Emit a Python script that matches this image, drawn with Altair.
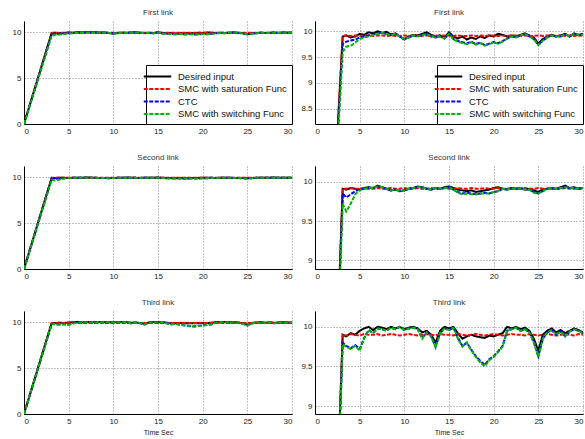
import altair as alt
import pandas as pd

TIME = [0, 3.1,
        3.5, 4.0, 4.5, 5.0, 5.5, 6.0, 6.5, 7.0, 7.5, 8.0,
        8.5, 9.0, 9.5, 10.0, 10.5, 11.0, 11.5, 12.0, 12.5, 13.0,
        13.5, 14.0, 14.5, 15.0, 15.5, 16.0, 16.5, 17.0, 17.5, 18.0,
        18.5, 19.0, 19.5, 20.0, 20.5, 21.0, 21.5, 22.0, 22.5, 23.0,
        23.5, 24.0, 24.5, 25.0, 25.5, 26.0, 26.5, 27.0, 27.5, 28.0,
        28.5, 29.0, 29.5, 30.0]

LINKS = ["First link", "Second link", "Third link"]
SERIES = ["Desired input", "SMC with saturation Func", "CTC", "SMC with switching Func"]
COLORS = ["#000000", "#ff0000", "#0000ff", "#00b400"]
DASHES = [[1, 0], [4, 1.5], [4, 1.5], [4, 1.5]]
WIDTHS = [2, 2, 1, 1]

L1_DESIRED = [0, 9.90,
              9.92, 9.88, 9.90, 9.95, 9.93, 9.98, 9.96, 10.00, 9.97, 9.99,
              9.94, 9.96, 9.90, 9.84, 9.90, 9.93, 9.92, 9.95, 9.98, 9.93,
              9.90, 9.92, 9.88, 9.98, 9.90, 9.86, 9.90, 9.84, 9.88, 9.85,
              9.90, 9.87, 9.92, 9.90, 9.95, 9.93, 9.90, 9.92, 9.90, 9.93,
              9.96, 9.92, 9.88, 9.76, 9.85, 9.90, 9.93, 9.90, 9.92, 9.95,
              9.90, 9.96, 9.93, 9.95]
L1_SAT = [0, 9.91,
          9.92, 9.91, 9.92, 9.91, 9.92, 9.92, 9.91, 9.92, 9.92, 9.91,
          9.92, 9.91, 9.91, 9.92, 9.91, 9.92, 9.92, 9.91, 9.92, 9.91,
          9.92, 9.91, 9.92, 9.92, 9.91, 9.92, 9.91, 9.91, 9.92, 9.91,
          9.92, 9.91, 9.92, 9.92, 9.91, 9.92, 9.91, 9.92, 9.92, 9.91,
          9.92, 9.91, 9.91, 9.92, 9.91, 9.92, 9.92, 9.91, 9.92, 9.91,
          9.92, 9.91, 9.92, 9.92]
L1_CTC = [0, 9.75,
          9.80, 9.82, 9.84, 9.88, 9.90, 9.92, 9.94, 9.96, 9.97, 9.95,
          9.93, 9.95, 9.90, 9.85, 9.88, 9.92, 9.90, 9.93, 9.95, 9.90,
          9.88, 9.90, 9.86, 9.95, 9.85, 9.81, 9.79, 9.76, 9.80, 9.75,
          9.78, 9.73, 9.76, 9.79, 9.77, 9.81, 9.86, 9.90, 9.88, 9.92,
          9.95, 9.90, 9.85, 9.74, 9.82, 9.88, 9.92, 9.90, 9.90, 9.94,
          9.90, 9.95, 9.92, 9.94]
L1_SW = [0, 9.60,
         9.70, 9.72, 9.78, 9.85, 9.88, 9.90, 9.93, 9.95, 9.97, 9.95,
         9.93, 9.95, 9.90, 9.85, 9.88, 9.92, 9.90, 9.93, 9.95, 9.90,
         9.88, 9.90, 9.86, 9.95, 9.84, 9.80, 9.77, 9.75, 9.79, 9.74,
         9.77, 9.72, 9.75, 9.78, 9.76, 9.80, 9.86, 9.90, 9.88, 9.92,
         9.95, 9.90, 9.85, 9.73, 9.82, 9.88, 9.92, 9.90, 9.90, 9.94,
         9.90, 9.95, 9.92, 9.94]

L2_DESIRED = [0, 9.91,
              9.90, 9.92, 9.91, 9.90, 9.92, 9.93, 9.92, 9.95, 9.93, 9.91,
              9.89, 9.90, 9.88, 9.89, 9.91, 9.92, 9.94, 9.93, 9.91, 9.90,
              9.92, 9.91, 9.93, 9.94, 9.92, 9.90, 9.89, 9.88, 9.89, 9.87,
              9.88, 9.89, 9.90, 9.92, 9.93, 9.91, 9.90, 9.92, 9.91, 9.92,
              9.90, 9.91, 9.89, 9.87, 9.90, 9.91, 9.92, 9.91, 9.93, 9.95,
              9.92, 9.93, 9.91, 9.92]
L2_SAT = [0, 9.91,
          9.91, 9.92, 9.91, 9.91, 9.92, 9.91, 9.91, 9.92, 9.91, 9.91,
          9.92, 9.91, 9.91, 9.92, 9.91, 9.91, 9.92, 9.91, 9.91, 9.92,
          9.91, 9.91, 9.92, 9.91, 9.91, 9.92, 9.91, 9.91, 9.92, 9.91,
          9.91, 9.92, 9.91, 9.91, 9.92, 9.91, 9.91, 9.92, 9.91, 9.91,
          9.92, 9.91, 9.91, 9.92, 9.91, 9.91, 9.92, 9.91, 9.91, 9.92,
          9.91, 9.91, 9.92, 9.91]
L2_CTC = [0, 9.85,
          9.80, 9.84, 9.88, 9.90, 9.91, 9.92, 9.92, 9.94, 9.93, 9.91,
          9.89, 9.90, 9.88, 9.89, 9.91, 9.92, 9.93, 9.93, 9.91, 9.90,
          9.92, 9.91, 9.92, 9.93, 9.90, 9.87, 9.85, 9.86, 9.85, 9.84,
          9.85, 9.86, 9.85, 9.87, 9.88, 9.91, 9.90, 9.91, 9.91, 9.92,
          9.90, 9.90, 9.87, 9.85, 9.88, 9.91, 9.91, 9.91, 9.92, 9.93,
          9.92, 9.92, 9.91, 9.92]
L2_SW = [0, 9.72,
         9.62, 9.72, 9.84, 9.89, 9.91, 9.92, 9.92, 9.94, 9.93, 9.91,
         9.89, 9.90, 9.88, 9.89, 9.91, 9.92, 9.93, 9.93, 9.91, 9.90,
         9.92, 9.91, 9.92, 9.93, 9.90, 9.86, 9.84, 9.85, 9.84, 9.84,
         9.85, 9.85, 9.85, 9.87, 9.88, 9.91, 9.90, 9.91, 9.91, 9.92,
         9.90, 9.90, 9.86, 9.85, 9.88, 9.91, 9.91, 9.91, 9.92, 9.93,
         9.92, 9.92, 9.91, 9.92]

L3_DESIRED = [0, 9.90,
              9.88, 9.92, 9.90, 9.95, 9.98, 10.00, 9.96, 10.00, 9.99, 9.97,
              10.00, 9.98, 10.00, 9.97, 9.99, 10.00, 9.98, 9.93, 9.95, 9.90,
              9.80, 9.95, 10.00, 9.98, 10.00, 9.92, 9.85, 9.88, 9.90, 9.88,
              9.87, 9.86, 9.89, 9.88, 9.90, 9.92, 10.00, 9.98, 10.00, 9.97,
              9.99, 9.95, 9.85, 9.70, 9.90, 9.95, 9.98, 9.93, 9.96, 9.92,
              9.95, 9.98, 9.96, 9.93]
L3_SAT = [0, 9.90,
          9.89, 9.91, 9.90, 9.89, 9.91, 9.90, 9.90, 9.91, 9.89, 9.90,
          9.91, 9.90, 9.89, 9.90, 9.91, 9.90, 9.89, 9.90, 9.91, 9.90,
          9.89, 9.91, 9.90, 9.90, 9.89, 9.91, 9.90, 9.89, 9.90, 9.91,
          9.90, 9.89, 9.90, 9.91, 9.90, 9.89, 9.90, 9.91, 9.90, 9.90,
          9.89, 9.91, 9.90, 9.89, 9.90, 9.91, 9.90, 9.89, 9.90, 9.91,
          9.90, 9.89, 9.91, 9.90]
L3_CTC = [0, 9.80,
          9.76, 9.73, 9.77, 9.72, 9.86, 9.96, 9.92, 9.98, 9.97, 9.95,
          9.99, 9.97, 10.00, 9.96, 9.98, 9.99, 9.97, 9.86, 9.93, 9.88,
          9.75, 9.92, 9.98, 9.96, 9.99, 9.86, 9.76, 9.80, 9.71, 9.63,
          9.57, 9.52, 9.59, 9.63, 9.69, 9.76, 9.95, 9.97, 9.99, 9.95,
          9.97, 9.93, 9.81, 9.63, 9.85, 9.93, 9.96, 9.90, 9.94, 9.88,
          9.94, 9.97, 9.95, 9.92]
L3_SW = [0, 9.78,
         9.75, 9.72, 9.76, 9.70, 9.85, 9.96, 9.92, 9.98, 9.97, 9.95,
         9.99, 9.97, 10.00, 9.96, 9.98, 9.99, 9.97, 9.85, 9.93, 9.88,
         9.74, 9.92, 9.98, 9.96, 9.99, 9.85, 9.75, 9.80, 9.70, 9.62,
         9.55, 9.50, 9.58, 9.62, 9.68, 9.75, 9.95, 9.97, 9.99, 9.95,
         9.97, 9.93, 9.80, 9.62, 9.85, 9.93, 9.96, 9.90, 9.94, 9.88,
         9.94, 9.97, 9.95, 9.92]

DATA = {
    "First link": [L1_DESIRED, L1_SAT, L1_CTC, L1_SW],
    "Second link": [L2_DESIRED, L2_SAT, L2_CTC, L2_SW],
    "Third link": [L3_DESIRED, L3_SAT, L3_CTC, L3_SW],
}

X_TICKS = [0, 5, 10, 15, 20, 25, 30]
LEFT_DOMAIN = [0, 11.2]
LEFT_TICKS = [0, 5, 10]
RIGHT_DOMAINS = [[8.2, 10.2], [8.89, 10.2], [8.9, 10.2]]
RIGHT_TICKS = [[8.5, 9, 9.5, 10], [9, 9.5, 10], [9, 9.5, 10]]

records = []
for link in LINKS:
    for k, (s, vals) in enumerate(zip(SERIES, DATA[link])):
        for t, v in zip(TIME, vals):
            records.append({"link": link, "series": s, "order": k, "t": t, "value": v})
df = pd.DataFrame(records)

FONT = "Liberation Sans"

LEGEND = dict(
    title=None, orient="bottom-right", offset=0, padding=5,
    strokeColor="#000000", fillColor="#ffffff", cornerRadius=0,
    labelFontSize=9.5, labelFont=FONT, labelColor="#111111",
    symbolType="M-2.5,0H2.5", symbolSize=121, symbolStrokeWidth=1.3,
    rowPadding=1.5, labelOffset=14, labelLimit=300,
)


def panel(link, ydomain, yticks, show_legend, xtitle):
    sub = df[df["link"] == link]
    leg = alt.Legend(**LEGEND) if show_legend else None
    return alt.Chart(sub).mark_line(clip=True).encode(
        x=alt.X("t:Q", scale=alt.Scale(domain=[0, 30], nice=False),
                axis=alt.Axis(values=X_TICKS, title=xtitle)),
        y=alt.Y("value:Q", scale=alt.Scale(domain=ydomain, nice=False, zero=False),
                axis=alt.Axis(values=yticks, labelExpr="'' + datum.value", title=None)),
        color=alt.Color("series:N", scale=alt.Scale(domain=SERIES, range=COLORS), legend=leg),
        strokeDash=alt.StrokeDash("series:N", scale=alt.Scale(domain=SERIES, range=DASHES), legend=leg),
        strokeWidth=alt.StrokeWidth("series:N", scale=alt.Scale(domain=SERIES, range=WIDTHS), legend=None),
        order=alt.Order("order:Q"),
    ).properties(
        width=268, height=103,
        title=alt.TitleParams(link, fontSize=8, fontWeight="normal", font=FONT, offset=4, color="#333333"),
    )


panels = []
for i, link in enumerate(LINKS):
    xtitle = "Time Sec" if i == 2 else None
    panels.append(panel(link, LEFT_DOMAIN, LEFT_TICKS, i == 0, xtitle))
    panels.append(panel(link, RIGHT_DOMAINS[i], RIGHT_TICKS[i], i == 0, xtitle))

chart = alt.concat(
    *panels, columns=2, spacing={"row": 42, "column": 23}, bounds="flush"
).resolve_scale(
    x="independent", y="independent", color="independent",
    strokeDash="independent", strokeWidth="independent"
).resolve_legend(color="independent", strokeDash="independent").properties(
    padding={"left": 12, "top": 9, "right": 0, "bottom": 0}
).configure_view(stroke=None).configure_axis(
    grid=True, gridDash=[1, 2], gridColor="#666666", gridWidth=0.8,
    domainColor="#000000", domainWidth=1, ticks=False,
    labelFont=FONT, labelFontSize=8, labelColor="#222222", labelPadding=3,
    titleFont=FONT, titleFontSize=7, titleFontWeight="normal", titleColor="#222222", titlePadding=3,
)

chart.save("out.html", embed_options={"renderer": "svg", "actions": False})
